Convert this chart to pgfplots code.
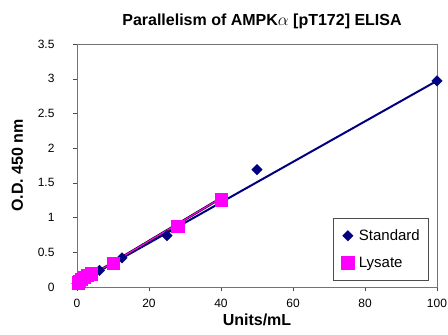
\documentclass[border=0pt]{standalone}
\usepackage{pgfplots}
\pgfplotsset{compat=1.18}
\usepackage{fontspec}
\setmainfont{Liberation Sans}
\definecolor{navy}{RGB}{0,0,128}
\definecolor{mag}{RGB}{255,0,255}
\begin{document}
\begin{tikzpicture}[x=1bp,y=1bp]
\begin{axis}[
  scale only axis, width=360bp, height=243bp,
  xmin=0, xmax=100, ymin=0, ymax=3.5,
  xtick={0,20,...,100}, ytick={0,0.5,...,3.5},
  yticklabels={0,0.5,1,1.5,2,2.5,3,3.5},
  axis line style={black!55},
  tick style={black!70},
  tick align=outside, tick pos=left,
  major tick length=4bp,
  /pgf/number format/assume math mode=true,
  tick label style={font=\fontsize{12bp}{14bp}\selectfont},
  xticklabel style={yshift=-5bp},
  yticklabel style={xshift=-15bp},
  title={\textbf{Parallelism of AMPK$\alpha$ [pT172] ELISA}},
  title style={font=\fontsize{16bp}{18bp}\selectfont, yshift=6bp, xshift=5bp},
  xlabel={\textbf{Units/mL}},
  ylabel={\textbf{O.D. 450 nm}},
  label style={font=\fontsize{16bp}{18bp}\selectfont},
  xlabel style={yshift=1bp},
  ylabel style={yshift=8bp},
  clip=false,
  legend style={at={(0.975,0.029)}, anchor=south east, draw=black!70,
    font=\fontsize{15bp}{17bp}\selectfont, inner xsep=6bp, inner ysep=9bp,
    row sep=11bp, legend cell align=left},
  legend image code/.code={\path[draw=none,fill=none] (0,0) -- (0.62cm,0); \draw[#1] plot coordinates {(0.3cm,0cm)};},
]
% trendlines
\addplot[navy, line width=2bp, forget plot] coordinates {(0,0.05) (100,2.97)};
\addplot[black, line width=2.4bp, forget plot] coordinates {(0.5,0.06) (40,1.28)};
\addplot[mag, line width=1.2bp, forget plot] coordinates {(0.5,0.06) (40,1.28)};
% data
\addplot[only marks, mark=square*, mark size=3.7bp, navy, mark options={fill=navy, rotate=45}]
  coordinates {(0,0.05) (0.78,0.08) (1.56,0.10) (3.125,0.16) (6.25,0.24) (12.5,0.42) (25,0.74) (50,1.69) (100,2.97)};
\addlegendentry{Standard}
\addplot[only marks, mark=square*, mark size=6.2bp, mag, mark options={fill=mag}]
  coordinates {(0.3,0.06) (0.6,0.08) (1.2,0.11) (2,0.14) (2.8,0.17) (4,0.19) (10,0.34) (28,0.88) (40,1.26)};
\addlegendentry{Lysate}
\end{axis}
\pgfresetboundingbox
\path (current axis.south west) ++(-77bp,-48bp) coordinate (bl);
\path (current axis.north east) ++(11bp,44bp) coordinate (tr);
\path[use as bounding box] (bl) rectangle (tr);
\end{tikzpicture}
\end{document}
